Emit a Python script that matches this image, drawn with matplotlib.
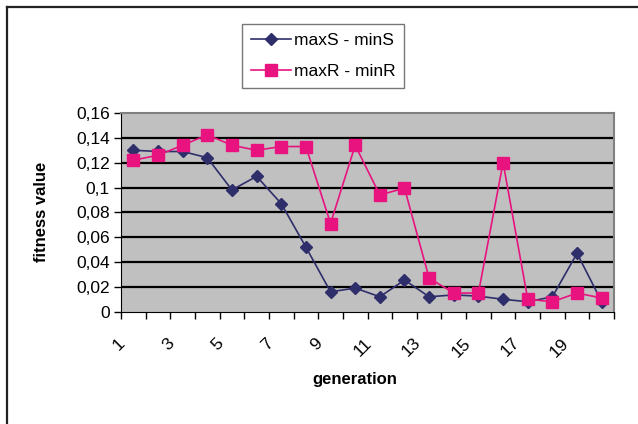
import matplotlib
matplotlib.use("Agg")
import matplotlib.pyplot as plt
import matplotlib.transforms as mtransforms
from matplotlib.lines import Line2D
from matplotlib.ticker import FixedLocator, FuncFormatter

plt.rcParams['font.family'] = ['Liberation Sans', 'DejaVu Sans']

generation = list(range(1, 21))
s_diff = [0.130, 0.129, 0.129, 0.124, 0.098, 0.109, 0.087, 0.052, 0.016, 0.019,
          0.012, 0.0255, 0.012, 0.0135, 0.0125, 0.010, 0.008, 0.012, 0.047, 0.008]
r_diff = [0.122, 0.126, 0.134, 0.1425, 0.134, 0.130, 0.133, 0.133, 0.071, 0.134,
          0.094, 0.0995, 0.027, 0.015, 0.015, 0.120, 0.010, 0.008, 0.015, 0.011]
y_ticks = [0, 0.02, 0.04, 0.06, 0.08, 0.1, 0.12, 0.14, 0.16]
x_labels = [1, 3, 5, 7, 9, 11, 13, 15, 17, 19]

navy = '#2E2E6B'
pink = '#E8137F'

fig = plt.figure(figsize=(6.38, 4.24), dpi=100)
ax = fig.add_axes([0.1897, 0.2649, 0.7727, 0.4686])
ax.set_facecolor('#C0C0C0')

for v in y_ticks[1:-1]:
    ax.axhline(v, color='black', lw=1.6, zorder=1)

ax.plot(generation, s_diff, color=navy, lw=1.2, marker='D', ms=6,
        label='maxS - minS', zorder=3)
ax.plot(generation, r_diff, color=pink, lw=1.2, marker='s', ms=8,
        label='maxR - minR', zorder=4)

ax.set_xlim(0.5, 20.5)
ax.set_ylim(0, 0.16)

ax.yaxis.set_major_locator(FixedLocator(y_ticks))
ax.yaxis.set_major_formatter(FuncFormatter(lambda v, p: ('%g' % round(v, 2)).replace('.', ',')))
ax.tick_params(axis='y', direction='out', length=5, width=1, labelsize=12.5, pad=3, colors='black')

ax.xaxis.set_major_locator(FixedLocator(x_labels))
ax.set_xticklabels([str(v) for v in x_labels], rotation=45, ha='right',
                   rotation_mode='anchor', fontsize=12.5)
ax.tick_params(axis='x', which='major', length=0, pad=17)
shift = mtransforms.ScaledTranslation(-16 / 100, 0, fig.dpi_scale_trans)
for lbl in ax.get_xticklabels():
    lbl.set_transform(lbl.get_transform() + shift)
ax.xaxis.set_minor_locator(FixedLocator([g + 0.5 for g in range(0, 21)]))
ax.tick_params(axis='x', which='minor', direction='out', length=5, width=1)

for side in ['top', 'right']:
    ax.spines[side].set_color('#808080')
    ax.spines[side].set_linewidth(1.5)
ax.spines['left'].set_color('black')
ax.spines['bottom'].set_color('black')

ax.set_ylabel('fitness value', fontsize=12, fontweight='bold')
ax.yaxis.set_label_coords(-0.146, 0.5)
ax.set_xlabel('generation', fontsize=12, fontweight='bold')
ax.xaxis.set_label_coords(0.475, -0.303)

fig.legend(loc='upper left', bbox_to_anchor=(242 / 638, 1 - 24 / 424),
           frameon=True, fancybox=False, edgecolor='#555555', fontsize=12.5,
           handlelength=2.3, borderpad=0.5, labelspacing=0.95, handletextpad=0.2,
           borderaxespad=0)

# outer chart frame (left and top edges visible)
fig.add_artist(Line2D([7 / 638, 7 / 638], [0, 1 - 7 / 424], color='#222222', lw=1.6))
fig.add_artist(Line2D([7 / 638, 1], [1 - 7 / 424, 1 - 7 / 424], color='#222222', lw=1.6))

fig.savefig('out.png', dpi=100)
